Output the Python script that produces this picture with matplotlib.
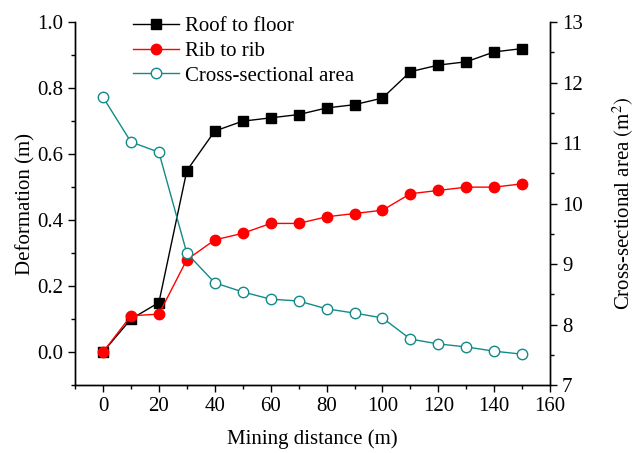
import matplotlib
matplotlib.use("Agg")
import matplotlib.pyplot as plt
from matplotlib.ticker import MultipleLocator

plt.rcParams['font.family'] = ['Liberation Serif', 'DejaVu Serif']
plt.rcParams['mathtext.fontset'] = 'stix'

# data
distance = [0, 10, 20, 30, 40, 50, 60, 70, 80, 90, 100, 110, 120, 130, 140, 150]
roof_floor = [0.0, 0.10, 0.15, 0.55, 0.67, 0.70, 0.71, 0.72, 0.74, 0.75, 0.77,
              0.85, 0.87, 0.88, 0.91, 0.92]
rib_rib = [0.0, 0.11, 0.115, 0.28, 0.34, 0.36, 0.39, 0.39, 0.41, 0.42, 0.43,
           0.48, 0.49, 0.50, 0.50, 0.51]
area = [11.76, 11.02, 10.85, 9.18, 8.69, 8.54, 8.42, 8.39, 8.26, 8.19, 8.11,
        7.76, 7.68, 7.63, 7.56, 7.51]

teal = '#138a8a'
fs = 15

fig = plt.figure(figsize=(6.36, 4.53), dpi=100)
ax = fig.add_axes([0.118, 0.150, 0.747, 0.801])
ax2 = ax.twinx()

l1, = ax.plot(distance, roof_floor, color='black', marker='s', markersize=6.5,
              linewidth=1.0, label='Roof to floor')
l2, = ax.plot(distance, rib_rib, color='red', marker='o', markersize=7.5,
              linewidth=1.0, label='Rib to rib')
l3, = ax2.plot(distance, area, color=teal, marker='o', markersize=7.5,
               markerfacecolor='white', markeredgecolor=teal, markeredgewidth=1.0,
               linewidth=1.0, label='Cross-sectional area')

ax.set_xlim(-10, 160)
ax.set_ylim(-0.1, 1.0)
ax2.set_ylim(7, 13)

ax.xaxis.set_major_locator(MultipleLocator(20))
ax.xaxis.set_minor_locator(MultipleLocator(10))
ax.yaxis.set_major_locator(MultipleLocator(0.2))
ax.yaxis.set_minor_locator(MultipleLocator(0.1))
ax2.yaxis.set_major_locator(MultipleLocator(1))
ax2.yaxis.set_minor_locator(MultipleLocator(0.5))
ax.yaxis.set_major_formatter(plt.FormatStrFormatter('%.1f'))

for a in (ax, ax2):
    a.spines['top'].set_visible(False)
    a.tick_params(which='major', direction='out', length=5, width=1, labelsize=fs)
    a.tick_params(which='minor', direction='out', length=3, width=1)
    for s in a.spines.values():
        s.set_linewidth(1.0)

ax.set_xlabel('Mining distance (m)', fontsize=fs, labelpad=10)
ax.set_ylabel('Deformation (m)', fontsize=fs, labelpad=1)
ax2.set_ylabel(r'Cross-sectional area $\left(\mathrm{m}^2\right)$', fontsize=fs, labelpad=20)

ax.legend(handles=[l1, l2, l3], loc='upper left', bbox_to_anchor=(0.095, 1.05),
          frameon=False, fontsize=fs, handlelength=2.2, handletextpad=0.3,
          labelspacing=0.25, borderaxespad=0.2)

fig.savefig('out.png', dpi=100)
